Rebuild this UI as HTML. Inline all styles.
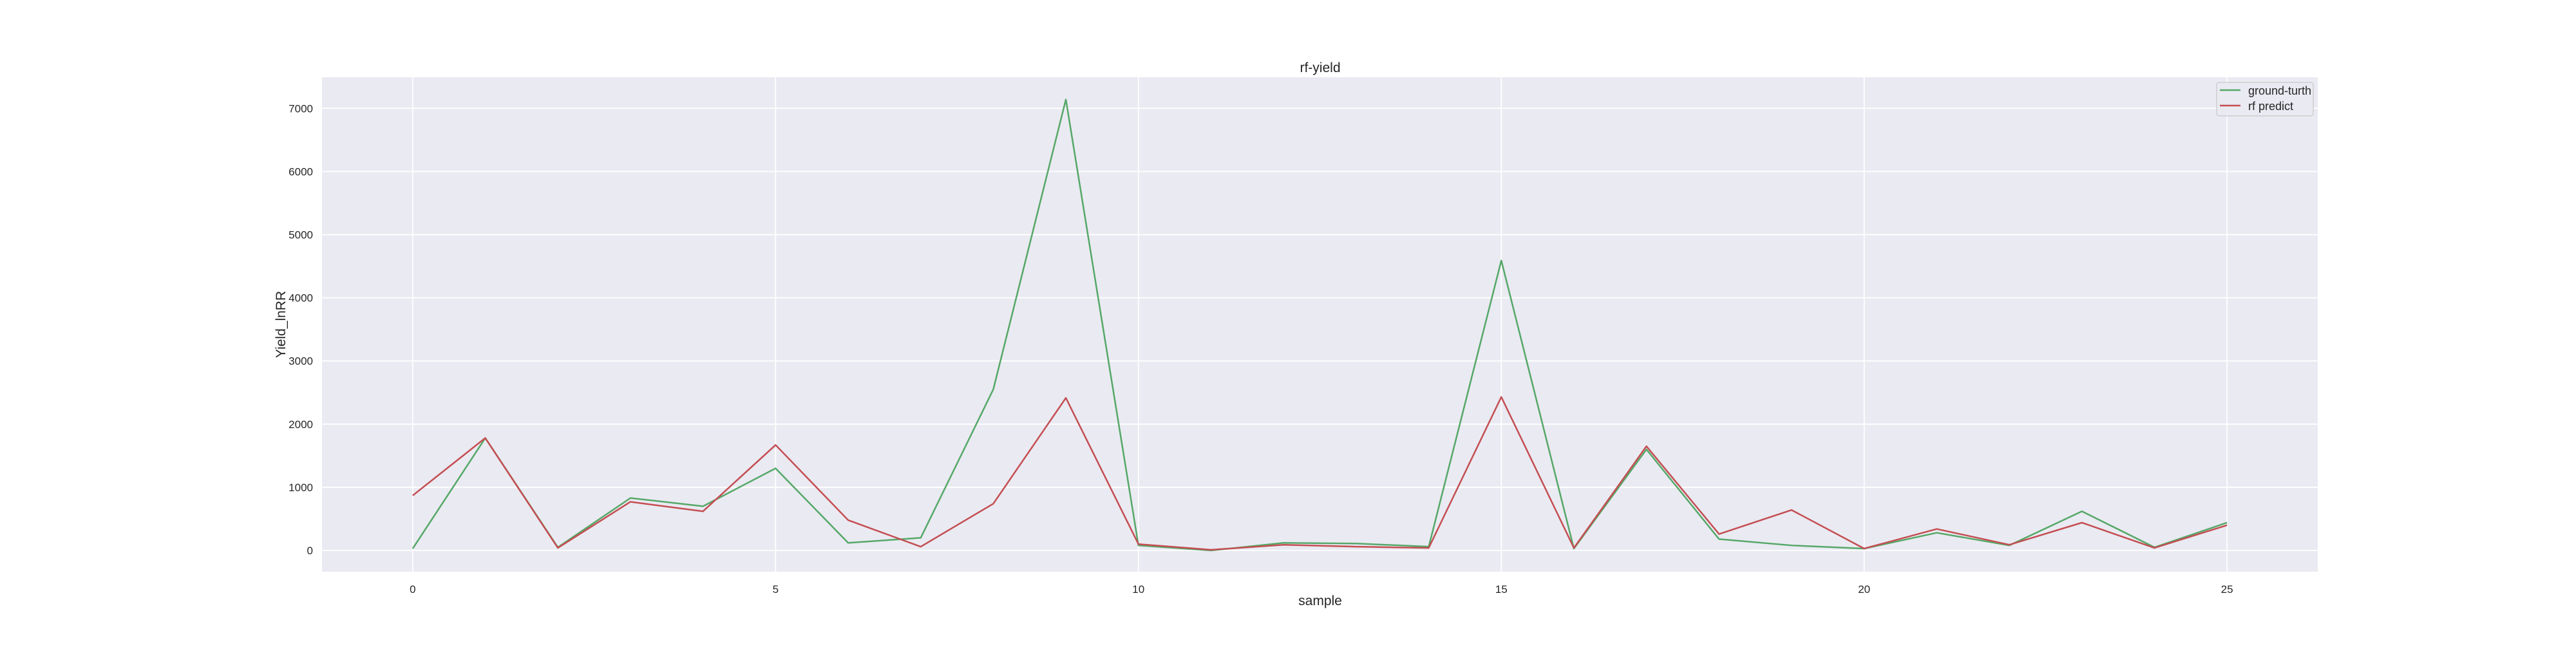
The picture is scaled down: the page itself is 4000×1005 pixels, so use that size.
<!DOCTYPE html>
<html><head><meta charset="utf-8"><style>
body{margin:0;background:#fff;}
svg text{font-family:"Liberation Sans",sans-serif;fill:#262626;}
</style></head><body>
<svg id="chart" width="4000" height="1000" xmlns="http://www.w3.org/2000/svg">
<rect x="500" y="120" width="3099" height="768" fill="#eaeaf2"/>
<g id="grid"></g><g id="ticks"></g><g id="lines"></g>
<text x="2050" y="112" font-size="21" text-anchor="middle">rf-yield</text>
<text x="2050" y="940" font-size="21" text-anchor="middle">sample</text>
<text x="443" y="504" font-size="21" text-anchor="middle" transform="rotate(-90 443 504)">Yield_lnRR</text>
<g>
<rect x="3442" y="128" width="150" height="52" rx="4" fill="#eaeaf2" stroke="#cccccc" stroke-width="1.5" opacity="0.9"/>
<line x1="3447" y1="140" x2="3479" y2="140" stroke="#55a868" stroke-width="2.5"/>
<text x="3491" y="147" font-size="18">ground-turth</text>
<line x1="3447" y1="164" x2="3479" y2="164" stroke="#c44e52" stroke-width="2.5"/>
<text x="3491" y="171" font-size="18">rf predict</text>
</g>
</svg>
<script>
const samples=[0,1,2,3,4,5,6,7,8,9,10,11,12,13,14,15,16,17,18,19,20,21,22,23,24,25];
const groundTruth=[30,1780,50,830,700,1300,120,200,2550,7140,80,0,120,110,60,4590,30,1600,180,80,30,280,80,620,50,440];
const rfPredict=[870,1780,40,770,620,1670,480,60,740,2415,100,10,90,60,40,2430,40,1650,260,640,30,340,90,440,40,400];
const xTicks=[0,5,10,15,20,25];
const yTicks=[0,1000,2000,3000,4000,5000,6000,7000];
const NS="http://www.w3.org/2000/svg";
const X0=500,X1=3599,Y0=888,Y1=120,xmin=-1.25,xmax=26.25,ymin=-336,ymax=7492;
const xs=v=>X0+(v-xmin)/(xmax-xmin)*(X1-X0);
const ys=v=>Y0-(v-ymin)/(ymax-ymin)*(Y0-Y1);
function mk(tag,attrs,parent){const e=document.createElementNS(NS,tag);for(const k in attrs)e.setAttribute(k,attrs[k]);document.getElementById(parent).appendChild(e);return e;}
xTicks.forEach(t=>{
  const l=mk('line',{x1:xs(t),x2:xs(t),y1:Y1,y2:Y0,stroke:'#fff','stroke-width':1.8},'grid');
  
  
  const tx=mk('text',{x:xs(t),y:Y0+33,'font-size':17,'text-anchor':'middle'},'ticks');
  tx.textContent=t;
  
  
});
yTicks.forEach(t=>{
  const l=mk('line',{x1:X0,x2:X1,y1:ys(t),y2:ys(t),stroke:'#fff','stroke-width':1.8},'grid');
  
  
  const tx=mk('text',{x:X0-14,y:ys(t)+6,'font-size':17,'text-anchor':'end'},'ticks');
  tx.textContent=t;
  
  
});
function series(vals,color,name){
  const p=mk('polyline',{points:samples.map((s,i)=>xs(s)+','+ys(vals[i])).join(' '),fill:'none',stroke:color,'stroke-width':2.5,'stroke-linejoin':'round'},'lines');
  
  
}
series(groundTruth,'#55a868','ground-truth-line');
series(rfPredict,'#c44e52','rf-predict-line');
</script>
</body></html>
